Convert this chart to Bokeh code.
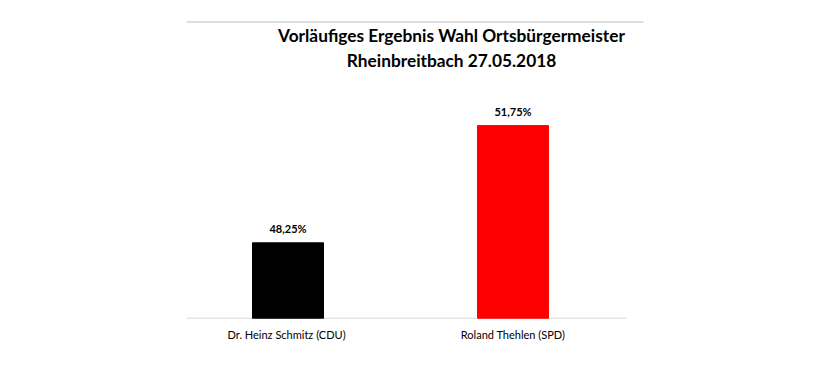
from bokeh.plotting import figure
from bokeh.models import Range1d, ColumnDataSource
from bokeh.core.properties import value
from bokeh.embed import file_html
from bokeh.resources import INLINE

# ---- data ----
candidates = ["Dr. Heinz  Schmitz (CDU)", "Roland Thehlen (SPD)"]
shares = [48.25, 51.75]
share_labels = ["48,25%", "51,75%"]
bar_colors = ["#000000", "#ff0000"]
title_lines = ["Vorläufiges Ergebnis Wahl Ortsbürgermeister", "Rheinbreitbach 27.05.2018"]
axis_min = 46.0

# ---- geometry helpers (page pixels -> data) ----
W, H = 822, 364
OFF = 0                      # observed page offset of the canvas
PX_PER_CAT = 225.0
CAT0_PX = 287.5 - OFF        # canvas x of first category
PX_PER_PCT = 33.5
BASE_PX = 317.7 - OFF        # canvas y (from top) of the baseline

def fx(page_x):
    return (page_x - OFF - CAT0_PX) / PX_PER_CAT

def fy(page_y):
    return axis_min + (BASE_PX - (page_y - OFF)) / PX_PER_PCT

x_start, x_end = fx(OFF), fx(OFF + W)
y_start, y_end = fy(OFF + H), fy(OFF)

p = figure(width=W, height=H, output_backend="svg", toolbar_location=None,
           x_range=Range1d(x_start, x_end), y_range=Range1d(y_start, y_end),
           min_border=0, outline_line_color=None)
p.axis.visible = False
p.grid.visible = False

xs = list(range(len(candidates)))
src = ColumnDataSource(dict(x=xs, top=shares, color=bar_colors, lab=share_labels,
                            cat=candidates))

# decorative lines
p.segment(x0=[fx(186)], y0=[fy(21.5)], x1=[fx(643)], y1=[fy(21.5)],
          line_color="#bfbfbf", line_width=1)
p.segment(x0=[fx(186)], y0=[axis_min], x1=[fx(626)], y1=[axis_min],
          line_color="#d9d9d9", line_width=1)

p.vbar(x="x", top="top", bottom=axis_min, width=71 / PX_PER_CAT, color="color",
       source=src)

# value labels
p.text(x="x", y="top", text="lab", source=src, text_font=value("Lato"),
       text_font_style="bold", text_font_size="11px", text_align="center",
       text_baseline="middle", y_offset=-14, text_color="#000000")

# category labels
p.text(x="x", y=axis_min, text="cat", source=src, text_font=value("Lato"),
       text_font_size="11px", text_align="center", text_baseline="middle",
       y_offset=16, text_color="#000000")

# title
p.text(x=[fx(451)], y=[fy(35)], text=[title_lines[0]], text_font=value("Lato"),
       text_font_style="bold", text_font_size="17.3px", text_align="center",
       text_baseline="middle", text_color="#000000")
p.text(x=[fx(451)], y=[fy(60)], text=[title_lines[1]], text_font=value("Lato"),
       text_font_style="bold", text_font_size="17.3px", text_align="center",
       text_baseline="middle", text_color="#000000")

open("out.html", "w").write(file_html(p, INLINE))
